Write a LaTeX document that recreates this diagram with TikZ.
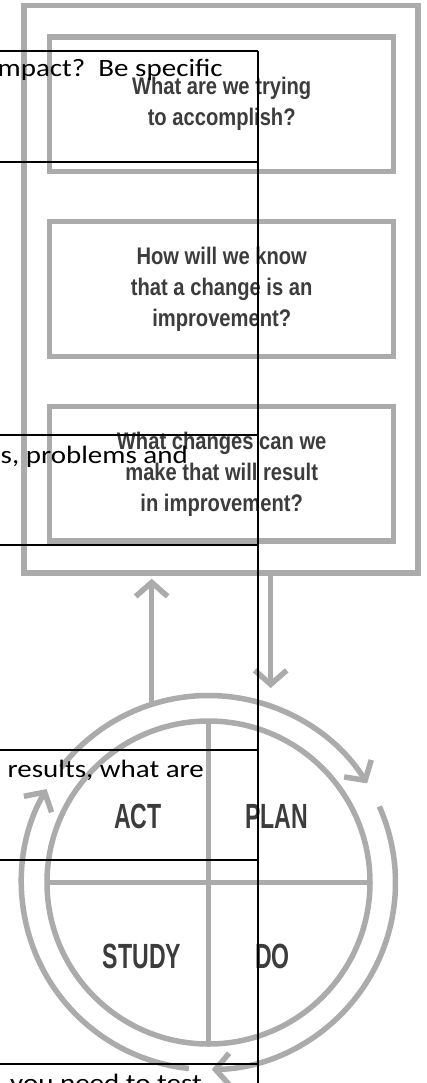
\documentclass[tikz,border=0pt]{standalone}
\usepackage{fontspec}
\usetikzlibrary{arrows.meta,calc}
\newfontfamily\calib[FakeStretch=1.16]{Carlito}
\newfontfamily\qfont[FakeStretch=0.84]{Liberation Sans}
\newfontfamily\pdsafont[FakeStretch=0.66]{Liberation Sans}
\definecolor{ringgray}{HTML}{ABABAB}
\definecolor{txtgray}{HTML}{3C3C3C}
\begin{document}
\begin{tikzpicture}[x=1pt,y=1pt,
  gline/.style={draw=ringgray, line width=5.5pt},
  gbox/.style={gline, rectangle, inner sep=0pt, minimum width=344pt, minimum height=134.5pt,
     text=txtgray, font=\qfont\bfseries\fontsize{24}{31}\selectfont, align=center},
  pdsa/.style={text=txtgray, font=\pdsafont\bfseries\fontsize{35}{35}\selectfont, anchor=base, inner sep=0pt},
  garrow/.style={gline, -{Straight Barb[length=14pt,width=32pt]}},
  tline/.style={draw=black, line width=2pt},
  ttext/.style={font=\calib\fontsize{25}{30}\selectfont, inner sep=0pt, text=black}
]
\useasboundingbox (0,0) rectangle (426,-1083);
\fill[white] (0,0) rectangle (426,-1083);
\clip (0,0) rectangle (426,-1083);

% outer frame and question boxes
\node[gline, rectangle, minimum width=394pt, minimum height=567.5pt, inner sep=0pt] (outer) at (221,-289.25) {};
\node[gbox] (q1) at (221.7,-104.25) {What are we trying\\to accomplish?};
\node[gbox] (q2) at (221.7,-289) {How will we know\\that a change is an\\improvement?};
\node[gbox] (q3) at (221.7,-473.85) {What changes can we\\make that will result\\in improvement?};

% PDSA circle
\coordinate (c) at (208.5,-882.5);
\node[gline, circle, minimum size=323pt, inner sep=0pt, outer sep=0pt] (cyc) at (c) {};
\draw[gline] (cyc.north) -- (cyc.south);
\draw[gline] (cyc.west) -- (cyc.east);
\node[pdsa] (act) at (138,-828) {ACT};
\node[pdsa] (plan) at (276.5,-828) {PLAN};
\node[pdsa] (study) at (142,-968) {STUDY};
\node[pdsa] (do) at (272.5,-968) {DO};

% ring arrows
\draw[garrow] ($(c)+(142:187)$) arc[start angle=142, end angle=32, radius=187];
\draw[garrow] ($(c)+(24:187)$) arc[start angle=24, end angle=-89, radius=187];
\draw[garrow] ($(c)+(264:187)$) arc[start angle=264, end angle=150, radius=187];

% connecting arrows
\coordinate (upb) at ($(c)+(107.7:187)$);
\draw[garrow, shorten >=3pt] (upb) -- (upb |- outer.south);
\coordinate (dnx) at (270.7,-688);
\draw[garrow] (outer.south -| dnx) -- (dnx);

% overlaid table
\draw[tline] (0,-51) -- (257.7,-51);
\draw[tline] (0,-162.3) -- (257.7,-162.3);
\draw[tline] (0,-435) -- (257.7,-435);
\draw[tline] (0,-545) -- (257.7,-545);
\draw[tline] (0,-750) -- (257.7,-750);
\draw[tline] (0,-860) -- (257.7,-860);
\draw[tline] (0,-1064.3) -- (257.7,-1064.3);
\draw[tline] (257.7,-51) -- (257.7,-1090);

\node[ttext, anchor=base east] (t1) at (223,-76.7) {impact?~~Be specific};
\node[ttext, anchor=base east] (t2) at (188,-463.3) {s, problems and};
\node[ttext, anchor=base west] (t3) at (7.5,-777.5) {results, what are};
\node[ttext, anchor=base west] (t4) at (10,-1091.5) {you need to test};
\end{tikzpicture}
\end{document}
